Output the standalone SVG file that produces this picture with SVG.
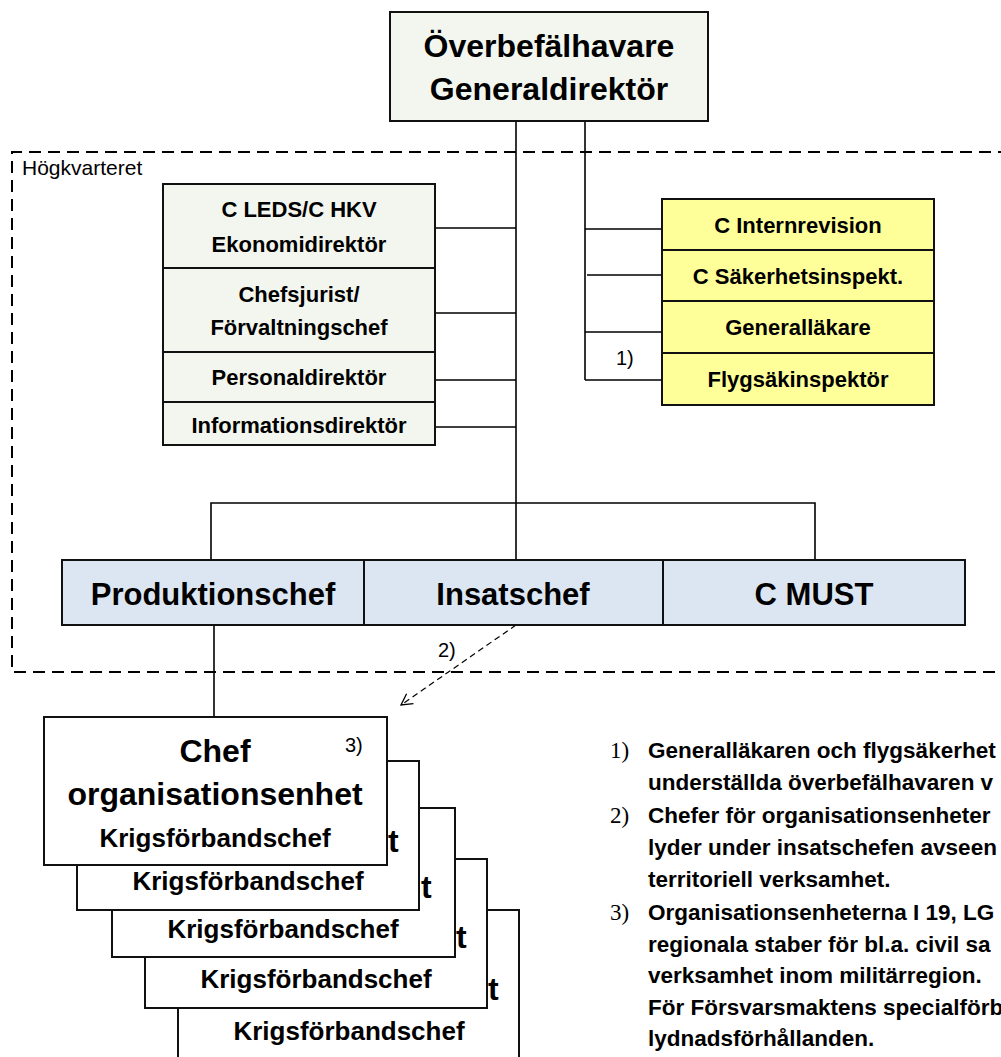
<svg xmlns="http://www.w3.org/2000/svg" width="1001" height="1057" viewBox="0 0 1001 1057">
<defs>
<style>
.b{font-family:"Liberation Sans",Arial,sans-serif;font-weight:bold;fill:#000;text-anchor:middle}
.t{font-family:"Liberation Sans",Arial,sans-serif;font-weight:bold;fill:#000;font-size:32px}
.r{font-family:"Liberation Sans",Arial,sans-serif;fill:#000}
.n{font-family:"Liberation Serif","Times New Roman",serif;fill:#000}
.nt{font-family:"Liberation Sans",Arial,sans-serif;font-weight:bold;fill:#000;font-size:22.5px}
.g{fill:#f3f6ee;stroke:#111;stroke-width:2}
.y{fill:#ffff99;stroke:#111;stroke-width:2}
.bl{fill:#dce6f2;stroke:#111;stroke-width:2}
.w{fill:#fff;stroke:#111;stroke-width:2}
.c{fill:none;stroke:#000;stroke-width:1.6}
</style>
<marker id="ah" markerWidth="14" markerHeight="14" refX="12" refY="7" orient="auto" markerUnits="userSpaceOnUse">
<path d="M1,1 L12,7 L1,13" fill="none" stroke="#000" stroke-width="1.3"/>
</marker>
</defs>
<rect width="1001" height="1057" fill="#fff"/>

<g id="hkv-frame">
<path d="M1010,152 H12 V672 H1010" fill="none" stroke="#000" stroke-width="2" stroke-dasharray="12 7"/>
<text class="r" x="22" y="175" font-size="21">Högkvarteret</text>
</g>

<g id="connectors">
<path class="c" d="M516,121 V560"/>
<path class="c" d="M585,121 V380"/>
<path class="c" d="M435,228 H516 M435,313 H516 M435,380 H516 M435,427 H516"/>
<path class="c" d="M585,229 H662 M587,275 H662 M585,332 H662 M585,380 H662"/>
<path class="c" d="M211,560 V503 H815 V560"/>
<path class="c" d="M214,625 V717"/>
<path d="M516,625 L401,705" fill="none" stroke="#000" stroke-width="1.2" stroke-dasharray="6 4" marker-end="url(#ah)"/>
<text class="r" x="438" y="657" font-size="20">2)</text>
<text class="r" x="616" y="365" font-size="20">1)</text>
</g>

<g id="obefh">
<rect class="g" x="390" y="12" width="318" height="109"/>
<text class="b" x="549" y="57" font-size="32">Överbefälhavare</text>
<text class="b" x="549" y="100" font-size="32">Generaldirektör</text>
</g>

<g id="staff-left">
<rect class="g" x="163" y="184" width="272" height="84"/>
<rect class="g" x="163" y="268" width="272" height="84"/>
<rect class="g" x="163" y="352" width="272" height="50"/>
<rect class="g" x="163" y="402" width="272" height="43"/>
<text class="b" x="299" y="217" font-size="22">C LEDS/C HKV</text>
<text class="b" x="299" y="252" font-size="22">Ekonomidirektör</text>
<text class="b" x="299" y="302" font-size="22">Chefsjurist/</text>
<text class="b" x="299" y="335" font-size="22">Förvaltningschef</text>
<text class="b" x="299" y="385" font-size="22">Personaldirektör</text>
<text class="b" x="299" y="433" font-size="22">Informationsdirektör</text>
</g>

<g id="staff-right">
<rect class="y" x="662" y="199" width="272" height="51"/>
<rect class="y" x="662" y="250" width="272" height="51"/>
<rect class="y" x="662" y="301" width="272" height="52"/>
<rect class="y" x="662" y="353" width="272" height="52"/>
<text class="b" x="798" y="233" font-size="22">C Internrevision</text>
<text class="b" x="798" y="284" font-size="22">C Säkerhetsinspekt.</text>
<text class="b" x="798" y="335" font-size="22">Generalläkare</text>
<text class="b" x="798" y="387" font-size="22">Flygsäkinspektör</text>
</g>

<g id="chiefs">
<rect class="bl" x="62" y="560" width="302" height="65"/>
<rect class="bl" x="364" y="560" width="299" height="65"/>
<rect class="bl" x="663" y="560" width="302" height="65"/>
<text class="b" x="213" y="605" font-size="31">Produktionschef</text>
<text class="b" x="513" y="605" font-size="31">Insatschef</text>
<text class="b" x="814" y="605" font-size="31">C MUST</text>
</g>

<g id="unit-5">
<rect class="w" x="178" y="910" width="341" height="160"/>
<text class="t" x="488" y="1000">t</text>
<text class="b" x="349" y="1040" font-size="26">Krigsförbandschef</text>
</g>
<g id="unit-4">
<rect class="w" x="145" y="859" width="342" height="149"/>
<text class="t" x="456" y="948">t</text>
<text class="b" x="316" y="988" font-size="26">Krigsförbandschef</text>
</g>
<g id="unit-3">
<rect class="w" x="112" y="808" width="343" height="149"/>
<text class="t" x="421" y="898">t</text>
<text class="b" x="283" y="938" font-size="26">Krigsförbandschef</text>
</g>
<g id="unit-2">
<rect class="w" x="77" y="761" width="342" height="149"/>
<text class="t" x="388" y="852">t</text>
<text class="b" x="248" y="890" font-size="26">Krigsförbandschef</text>
</g>
<g id="unit-1">
<rect class="w" x="44" y="717" width="343" height="148"/>
<text class="b" x="215" y="762" font-size="32">Chef</text>
<text class="b" x="215" y="805" font-size="32">organisationsenhet</text>
<text class="b" x="215" y="847" font-size="26">Krigsförbandschef</text>
<text class="r" x="345" y="752" font-size="20">3)</text>
</g>

<g id="notes">
<text class="n" x="610" y="758" font-size="23">1)</text>
<text class="nt" x="648" y="758">Generalläkaren och flygsäkerhet</text>
<text class="nt" x="648" y="790">underställda överbefälhavaren v</text>
<text class="n" x="610" y="823" font-size="23">2)</text>
<text class="nt" x="648" y="823">Chefer för organisationsenheter</text>
<text class="nt" x="648" y="855">lyder under insatschefen avseen</text>
<text class="nt" x="648" y="887">territoriell verksamhet.</text>
<text class="n" x="610" y="920" font-size="23">3)</text>
<text class="nt" x="648" y="920">Organisationsenheterna I 19, LG</text>
<text class="nt" x="648" y="952">regionala staber för bl.a. civil sa</text>
<text class="nt" x="648" y="983">verksamhet inom militärregion.</text>
<text class="nt" x="648" y="1015">För Försvarsmaktens specialförb</text>
<text class="nt" x="648" y="1046">lydnadsförhållanden.</text>
</g>
</svg>
